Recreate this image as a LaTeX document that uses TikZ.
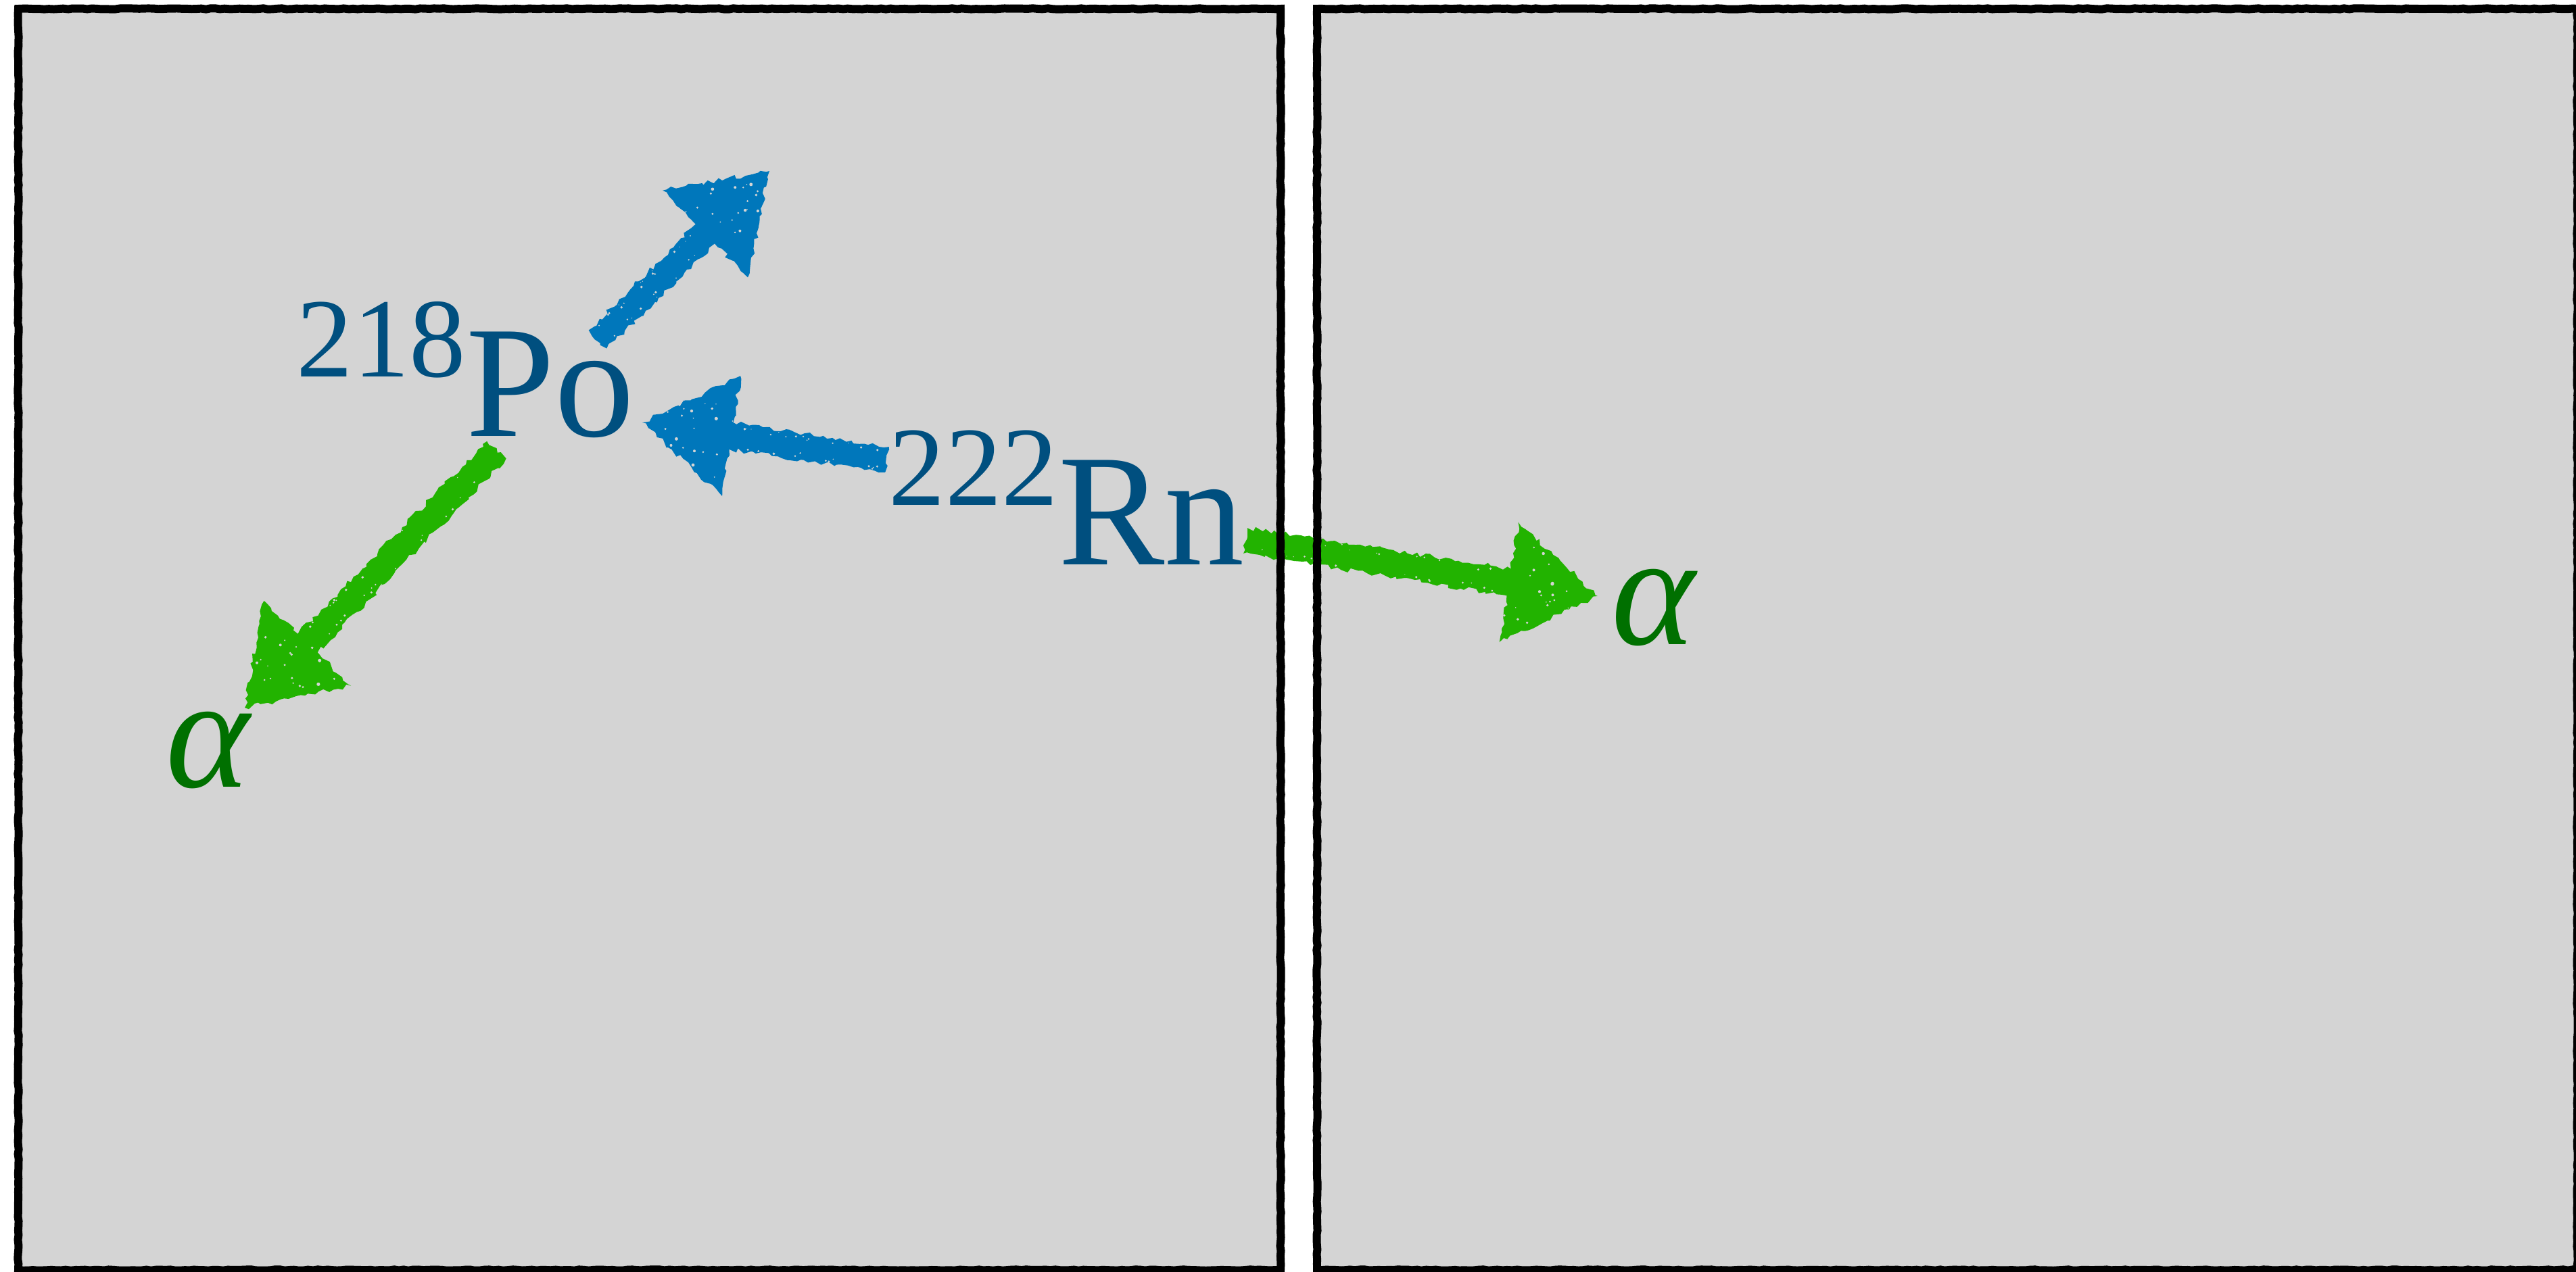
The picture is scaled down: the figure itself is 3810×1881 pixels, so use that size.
\documentclass[tikz,border=0pt]{standalone}
\usepackage{fontspec}
\setmainfont{Liberation Serif}
\usetikzlibrary{calc,decorations.pathmorphing}

\definecolor{panelgray}{HTML}{D4D4D4}
\definecolor{nucblue}{HTML}{004F7F}
\definecolor{chalkblue}{HTML}{0077BB}
\definecolor{chalkgreen}{HTML}{22B300}
\definecolor{alphagreen}{HTML}{007000}

\tikzset{
  rough/.style={decorate, decoration={random steps, segment length=2pt, amplitude=1pt}},
  panel/.style={fill=panelgray},
  frame/.style={draw=black, line width=3.4pt, decorate,
    decoration={random steps, segment length=2pt, amplitude=0.2pt}},
  nuc/.style={inner sep=0pt, text=nucblue, font=\fontsize{67.1pt}{70pt}\selectfont},
  particle/.style={inner sep=0pt, text=alphagreen, font=\fontsize{67.1pt}{70pt}\selectfont\itshape},
}

% raised mass number in front of an element symbol
\newcommand\massno[1]{\raisebox{24.8pt}{\fontsize{47.5pt}{50pt}\selectfont #1}}

% chalk-style arrow: colour, tail coordinate, tip coordinate
\newcommand\chalkarrow[3]{%
  \coordinate (ca-b) at ($(#3)!1.33cm!(#2)$);
  \fill[#1, rough]
    ($(#2)!0.19cm!90:(#3)$) -- ($(ca-b)!0.2cm!-90:(#2)$) --
    ($(ca-b)!0.9cm!-90:(#2)$) -- (#3) -- ($(ca-b)!0.9cm!90:(#2)$) --
    ($(ca-b)!0.2cm!90:(#2)$) -- ($(#2)!0.19cm!-90:(#3)$) -- cycle;
  % chalk grain in the shaft, mostly near its edges
  \foreach \k in {1,...,26}{
    \pgfmathsetmacro\ta{0.05+0.9*rnd}
    \pgfmathsetmacro\oa{(rnd>0.5 ? 1 : -1)*(0.09+0.08*rnd)}
    \pgfmathsetmacro\ra{0.006+0.014*rnd}
    \fill[panelgray] ($(#2)!\ta!(ca-b)!{\oa cm}!90:(ca-b)$) circle[radius=\ra cm];
  }
  % chalk grain in the head
  \foreach \k in {1,...,20}{
    \pgfmathsetmacro\sa{0.8*rnd}
    \pgfmathsetmacro\oa{(2*rnd-1)*0.82*(1-\sa)}
    \pgfmathsetmacro\ra{0.008+0.018*rnd}
    \fill[panelgray] ($(ca-b)!{\sa*1.33cm}!(#3)!{\oa cm}!90:(#3)$) circle[radius=\ra cm];
  }
}

\begin{document}
\begin{tikzpicture}[x=0.01cm, y=-0.01cm]
\pgfmathsetseed{17}
\useasboundingbox (0,0) rectangle (3810,1881);
\fill[white] (0,0) rectangle (3810,1881);

% the two panels
\fill[panel] (27,13) rectangle (1894,1879);
\fill[panel] (1948,13) rectangle (3812,1879);

% labels
\node[nuc, anchor=base west] (Po) at (438,645) {\massno{218}Po};
\node[nuc, anchor=base west] (Rn) at (1314,835) {\massno{222}Rn};
\node[particle, anchor=base west] (alphaL) at (245,1164) {α};
\node[particle, anchor=base west] (alphaR) at (2383,953) {α};

% arrow end points
\coordinate (po-out)    at (884,502);
\coordinate (po-away)   at (1138,253);
\coordinate (rn-out)    at (1312,680);
\coordinate (po-in)     at (950,625);
\coordinate (po-alpha)  at (735,665);
\coordinate (alphaL-in) at (362,1047);
\coordinate (rn-alpha)  at (1842,800);
\coordinate (alphaR-in) at (2363,882);

% arrows
\chalkarrow{chalkblue}{po-out}{po-away}
\chalkarrow{chalkblue}{rn-out}{po-in}
\chalkarrow{chalkgreen}{po-alpha}{alphaL-in}
\chalkarrow{chalkgreen}{rn-alpha}{alphaR-in}

% panel frames
\path[frame] (27,13) rectangle (1894,1879);
\path[frame] (1948,13) rectangle (3812,1879);
\end{tikzpicture}
\end{document}
